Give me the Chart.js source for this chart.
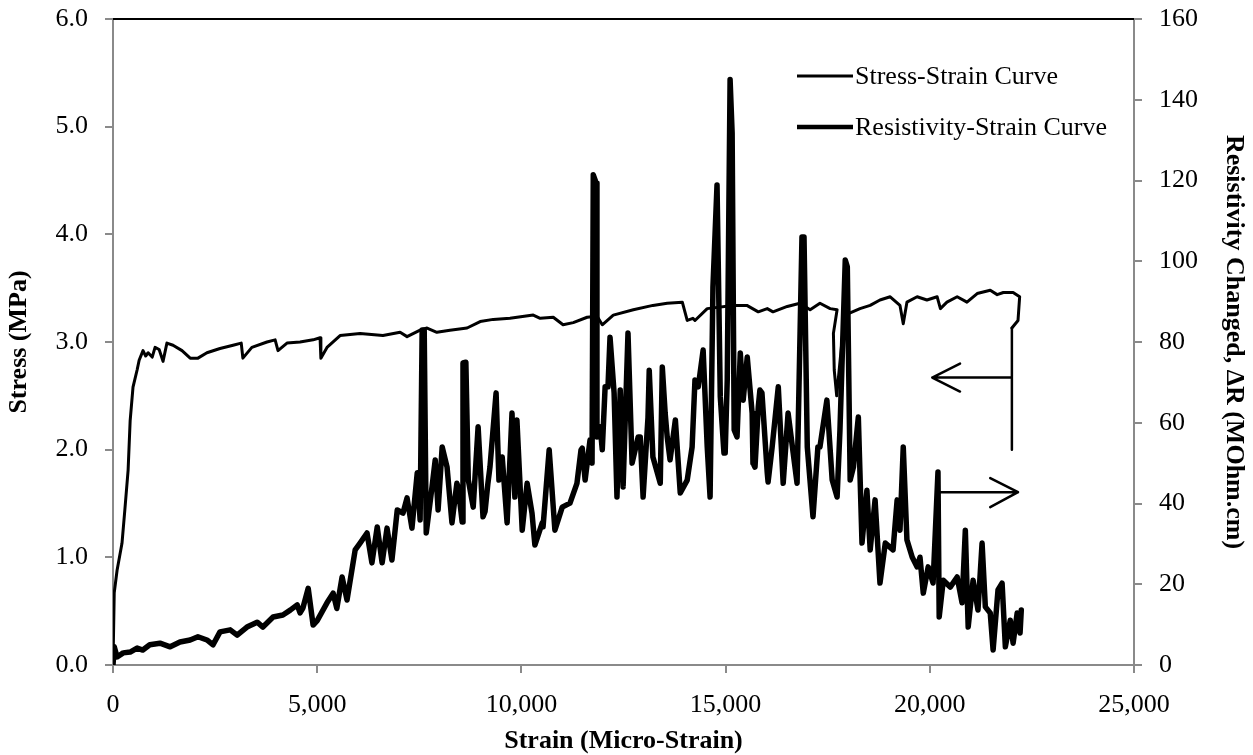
<!DOCTYPE html>
<html>
<head>
<meta charset="utf-8">
<script src="https://cdn.jsdelivr.net/npm/chart.js@4.4.1/dist/chart.umd.min.js"></script>
<style>
    body { margin: 0; background: #fff; }
    canvas { display: block; }
</style>
</head>
<body>
<canvas id="strain-chart" width="1253" height="755"></canvas>
<script>
// stress-strain curve (left axis, MPa)
const stressStrain = [0, 30, 100, 220, 290, 370, 420, 490, 590, 640, 735, 800, 860, 960, 1030, 1130, 1225, 1320, 1470, 1690,
    1890, 2080, 2300, 2620, 2940, 3140, 3180, 3400, 3770, 3970, 4040, 4260, 4580, 4900, 5070, 5090, 5240, 5560, 6050, 6610,
    7030, 7200, 7520, 7690, 7930, 8250, 8670, 8990, 9310, 9720, 10290, 10460, 10780, 11020, 11270, 11610, 11850, 11980, 12250, 12740,
    13220, 13570, 13940, 14060, 14200, 14250, 14550, 15180, 15520, 15800, 16020, 16160, 16510, 16820, 17070, 17310, 17560, 17730, 17640, 17660,
    17720, 17860, 17950, 18050, 18290, 18540, 18780, 19030, 19270, 19350, 19440, 19690, 19930, 20180, 20260, 20420, 20670, 20910, 21160, 21480,
    21650, 21800, 22040, 22200, 22160, 22010];
const stressValues = [0.0, 0.67, 0.88, 1.13, 1.44, 1.81, 2.27, 2.58, 2.74, 2.83, 2.92, 2.87, 2.90, 2.86, 2.95, 2.93, 2.82, 2.99, 2.97, 2.92,
    2.85, 2.85, 2.90, 2.94, 2.97, 2.99, 2.85, 2.95, 3.00, 3.02, 2.92, 2.99, 3.00, 3.02, 3.04, 2.85, 2.95, 3.06, 3.08, 3.06,
    3.09, 3.05, 3.11, 3.13, 3.09, 3.11, 3.13, 3.19, 3.21, 3.22, 3.25, 3.22, 3.23, 3.16, 3.18, 3.23, 3.24, 3.16, 3.25, 3.30,
    3.34, 3.36, 3.37, 3.20, 3.22, 3.20, 3.31, 3.34, 3.34, 3.28, 3.31, 3.28, 3.33, 3.36, 3.30, 3.36, 3.31, 3.30, 3.08, 2.74,
    2.50, 3.05, 3.28, 3.27, 3.31, 3.34, 3.39, 3.42, 3.34, 3.17, 3.37, 3.42, 3.39, 3.42, 3.31, 3.37, 3.42, 3.37, 3.45, 3.48,
    3.44, 3.46, 3.46, 3.42, 3.20, 3.13];

// resistivity-strain curve (right axis, MOhm.cm)
const resStrain = [0, 30, 100, 250, 420, 590, 730, 900, 1150, 1400, 1640, 1890, 2080, 2300, 2450, 2620, 2870, 3040, 3280, 3530,
    3670, 3920, 4160, 4340, 4510, 4580, 4650, 4780, 4900, 5000, 5240, 5390, 5480, 5610, 5730, 5930, 6050, 6220, 6340, 6470,
    6590, 6710, 6830, 6960, 7100, 7200, 7320, 7450, 7520, 7570, 7620, 7670, 7810, 7890, 7960, 8060, 8180, 8300, 8420, 8450,
    8550, 8570, 8640, 8700, 8820, 8940, 9060, 9110, 9180, 9230, 9380, 9450, 9530, 9650, 9770, 9840, 9890, 10020, 10140, 10260,
    10330, 10510, 10530, 10680, 10820, 11000, 11190, 11360, 11460, 11490, 11560, 11680, 11730, 11760, 11830, 11850, 11930, 11980, 12050, 12120,
    12170, 12270, 12340, 12420, 12490, 12610, 12710, 12860, 12910, 12980, 13100, 13130, 13220, 13400, 13450, 13520, 13570, 13640, 13770, 13890,
    14060, 14180, 14250, 14330, 14450, 14550, 14620, 14690, 14790, 14820, 14870, 14960, 14990, 15040, 15110, 15160, 15210, 15280, 15360, 15430,
    15530, 15650, 15670, 15720, 15800, 15840, 15890, 16020, 16040, 16140, 16290, 16410, 16530, 16750, 16870, 16920, 17000, 17140, 17260, 17310,
    17480, 17610, 17730, 17800, 17930, 17980, 18050, 18130, 18250, 18340, 18460, 18540, 18660, 18780, 18910, 19100, 19200, 19270, 19350, 19440,
    19570, 19690, 19760, 19840, 19960, 20080, 20200, 20230, 20330, 20500, 20670, 20790, 20870, 20940, 21060, 21180, 21280, 21360, 21480, 21550,
    21670, 21770, 21850, 21970, 22040, 22140, 22210, 22240];
const resValues = [0, 4.5, 2, 3, 3.2, 4.2, 3.7, 5, 5.4, 4.5, 5.7, 6.2, 7, 6.2, 5, 8.2, 8.7, 7.4, 9.4, 10.6,
    9.4, 11.9, 12.4, 13.6, 14.9, 12.9, 14.1, 19.0, 9.9, 11, 15.4, 17.8, 14, 21.8, 16.1, 28.5, 30.2, 32.7, 25.3, 34.2,
    25.3, 33.9, 26, 38.4, 37.6, 41.4, 33.9, 47.6, 35.9, 83, 83, 32.7, 44, 50.8, 38.4, 54, 49, 35.2, 45, 44.1,
    35.4, 74.8, 75, 45.8, 39.1, 59, 36.7, 38, 45, 49, 67.4, 45.8, 51.5, 35.2, 62.4, 41.6, 60.7, 33.4, 45, 37.6,
    29.7, 35.2, 34.2, 53.3, 33.4, 39.1, 40.1, 45, 53.3, 53.7, 45.8, 55.7, 50, 121.4, 119.4, 56.5, 59, 53.3, 68.9, 68.9,
    81.2, 67.4, 41.6, 68.1, 44.1, 82.2, 50, 56.5, 56.5, 41.6, 61.4, 73, 51.5, 45, 73.8, 62.4, 56.5, 50.8, 60.7, 42.6,
    45.8, 54, 70.6, 68.9, 78, 54, 41.6, 93.6, 118.9, 99.6, 66.4, 52.5, 52.5, 70.6, 145, 131.8, 58.2, 56.5, 77.3, 65.6,
    76.3, 62.4, 50, 49, 63.9, 68.1, 67.4, 47.6, 45.3, 54, 68.9, 45, 62.4, 45, 106, 106, 54, 36.7, 54, 54,
    65.6, 45.8, 41.6, 58.2, 100.3, 98.6, 45.8, 49, 61.4, 30.2, 43.3, 28.5, 40.9, 20.3, 30.2, 28.5, 40.9, 33.4, 54, 31,
    26.7, 24.3, 26.7, 17.8, 24.3, 20.3, 47.8, 11.9, 21, 19.3, 21.8, 15.4, 33.4, 9.4, 21, 13.6, 30.2, 14.4, 12.9, 3.7,
    18.6, 20.3, 4.5, 11.1, 5.4, 12.9, 7.9, 13.6];

// arrow annotations (null = pen up)
const arrowLeftX = [22010, 22010, 22010, 22010, 20060, 20060, 20740, 20060, 20740];
const arrowLeftY = [3.13, 2.0, null, 2.67, 2.67, null, 2.80, 2.67, 2.54];
const arrowRightX = [20250, 22160, 22160, 21480, 22160, 21480];
const arrowRightY = [42.8, 42.8, null, 46.3, 42.8, 39.1];

const xTicks = [0, 5000, 10000, 15000, 20000, 25000];

const serif = '"Liberation Serif", "Times New Roman", serif';
const axisGray = '#8a8a8a';

function toPoints(xs, ys) {
    return xs.map((x, i) => ({ x: x, y: ys[i] }));
}

// fixed box sizes so the plot area lands where the original has it
function fitVertical(width) {
    return (s) => {
        s.width = width;
        s.paddingTop = 19;
        s.paddingBottom = 0;
    };
}

// legend drawn inside the plot, like the original
const insideLegend = {
    id: 'insideLegend',
    afterDraw(chart) {
        const ctx = chart.ctx;
        const area = chart.chartArea;
        // black top border of the plot area
        ctx.save();
        ctx.strokeStyle = '#000';
        ctx.lineWidth = 2;
        ctx.beginPath();
        ctx.moveTo(area.left, area.top);
        ctx.lineTo(area.right, area.top);
        ctx.stroke();

        const rows = [76, 127];
        ctx.font = '26px ' + serif;
        ctx.fillStyle = '#000';
        ctx.textBaseline = 'middle';
        ctx.textAlign = 'left';
        [0, 1].forEach((di, i) => {
            const ds = chart.data.datasets[di];
            ctx.lineWidth = di === 0 ? 3 : 4.5;
            ctx.beginPath();
            ctx.moveTo(797, rows[i]);
            ctx.lineTo(853, rows[i]);
            ctx.stroke();
            ctx.fillText(ds.label, 855, rows[i] + 1);
        });
        ctx.restore();
    }
};

const ctx = document.getElementById('strain-chart').getContext('2d');
new Chart(ctx, {
    type: 'line',
    data: {
        datasets: [
            {
                label: 'Stress-Strain Curve',
                data: toPoints(stressStrain, stressValues),
                yAxisID: 'y',
                borderColor: '#000',
                borderWidth: 3,
                pointRadius: 0,
                tension: 0
            },
            {
                label: 'Resistivity-Strain Curve',
                data: toPoints(resStrain, resValues),
                yAxisID: 'y1',
                borderColor: '#000',
                borderWidth: 5.5,
                pointRadius: 0,
                tension: 0
            },
            {
                label: 'arrow-stress',
                data: toPoints(arrowLeftX, arrowLeftY),
                yAxisID: 'y',
                borderColor: '#000',
                borderWidth: 2.5,
                pointRadius: 0,
                spanGaps: false
            },
            {
                label: 'arrow-resistivity',
                data: toPoints(arrowRightX, arrowRightY),
                yAxisID: 'y1',
                borderColor: '#000',
                borderWidth: 2.5,
                pointRadius: 0,
                spanGaps: false
            }
        ]
    },
    options: {
        responsive: false,
        animation: false,
        elements: { line: { borderJoinStyle: 'round', borderCapStyle: 'round' } },
        layout: { padding: { top: 19, left: 0, right: 0, bottom: 0 } },
        plugins: {
            legend: { display: false },
            tooltip: { enabled: false }
        },
        scales: {
            x: {
                type: 'linear',
                min: 0,
                max: 25000,
                afterFit: (s) => { s.height = 90; },
                afterBuildTicks: (s) => { s.ticks = xTicks.map(v => ({ value: v })); },
                ticks: {
                    color: '#000',
                    font: { family: serif, size: 26 },
                    padding: 17,
                    maxRotation: 0,
                    callback: (v) => v.toLocaleString('en-US')
                },
                grid: { drawOnChartArea: false, tickLength: 8, color: axisGray, lineWidth: 2 },
                border: { color: axisGray, width: 2 },
                title: {
                    display: true,
                    text: 'Strain (Micro-Strain)',
                    color: '#000',
                    font: { family: serif, size: 26, weight: 'bold', lineHeight: 1.0 },
                    padding: { top: 0, bottom: 1 }
                }
            },
            y: {
                position: 'left',
                min: 0,
                max: 6,
                afterFit: fitVertical(113),
                ticks: {
                    stepSize: 1,
                    color: '#000',
                    font: { family: serif, size: 26 },
                    padding: 17,
                    callback: (v) => v.toFixed(1)
                },
                grid: { drawOnChartArea: false, tickLength: 8, color: axisGray, lineWidth: 2 },
                border: { color: axisGray, width: 2 },
                title: {
                    display: true,
                    text: 'Stress (MPa)',
                    color: '#000',
                    font: { family: serif, size: 26, weight: 'bold', lineHeight: 1.2 },
                    padding: { top: 4, bottom: 0 }
                }
            },
            y1: {
                position: 'right',
                min: 0,
                max: 160,
                afterFit: fitVertical(119),
                ticks: {
                    stepSize: 20,
                    color: '#000',
                    font: { family: serif, size: 26 },
                    padding: 17
                },
                grid: { drawOnChartArea: false, tickLength: 8, color: axisGray, lineWidth: 2 },
                border: { color: axisGray, width: 2 },
                title: {
                    display: true,
                    text: 'Resistivity Changed, ΔR (MOhm.cm)',
                    color: '#000',
                    font: { family: serif, size: 26, weight: 'bold', lineHeight: 1.2 },
                    padding: { top: 4, bottom: 0 }
                }
            }
        }
    },
    plugins: [insideLegend]
});
</script>
</body>
</html>
